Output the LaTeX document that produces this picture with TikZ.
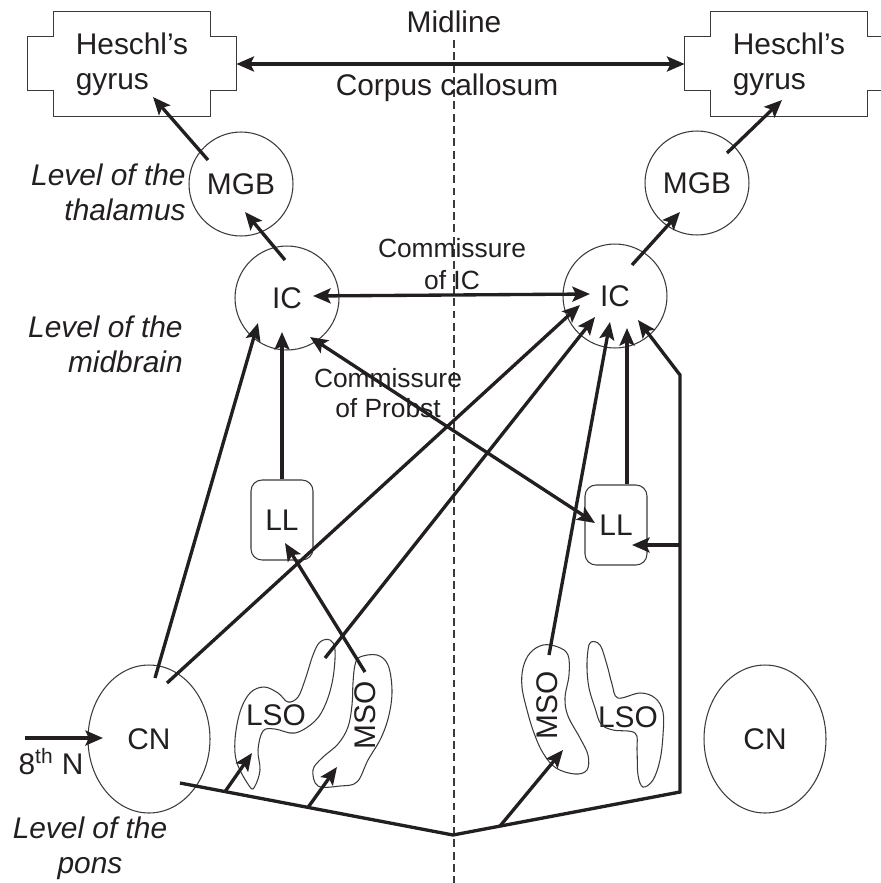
\documentclass[tikz,border=0pt]{standalone}
\usepackage{fontspec}
\setmainfont{Liberation Sans}
\usetikzlibrary{calc,shapes.geometric,arrows.meta}
\definecolor{ink}{HTML}{231F20}
\definecolor{rim}{HTML}{3A3A3A}
\tikzstyle{nucleus}   = [circle, draw=rim, line width=0.6pt, minimum size=2.08cm, inner sep=0pt, text=ink]
\tikzstyle{cochlear}  = [ellipse, draw=rim, line width=0.6pt, minimum width=2.44cm, minimum height=2.96cm, inner sep=0pt, text=ink]
\tikzstyle{lemniscus} = [rectangle, rounded corners=0.22cm, draw=rim, line width=0.6pt, minimum width=1.24cm, minimum height=1.6cm, inner sep=0pt, text=ink]
\tikzstyle{cortex}    = [minimum width=3.12cm, minimum height=2.1cm, inner sep=0pt, align=left, text=ink]
\tikzstyle{outline}   = [draw=rim, line width=0.6pt]
\tikzstyle{tract}     = [draw=ink, line width=1.9pt, -{Stealth[length=10pt,width=8.5pt,inset=2pt]}]
\tikzstyle{tracts}    = [draw=ink, line width=1.9pt, {Stealth[length=10pt,width=8.5pt,inset=2pt]}-{Stealth[length=10pt,width=8.5pt,inset=2pt]}]
\tikzstyle{level}     = [font=\fontsize{17}{20}\selectfont\itshape, text=ink, inner sep=0pt]
\tikzstyle{note}      = [text=ink, inner sep=0pt, align=center]
\tikzstyle{midline}   = [draw=rim, line width=0.7pt, dash pattern=on 4.5pt off 2.5pt]

\begin{document}
    \begin{tikzpicture}[x=0.02cm, y=-0.02cm, font=\fontsize{17}{20}\selectfont]
        \useasboundingbox (0,0) rectangle (880,883);

        \coordinate (mtop) at (454,40);
        \coordinate (mbot) at (454,883);
        \draw[midline] (mtop) -- (mbot);
        \node[note] (midl) at (454,22) {Midline};

        \node[cortex] (hgL) at (132,64) {Heschl’s\\gyrus};
        \node[cortex] (hgR) at (789,64) {Heschl’s\\gyrus};
        \draw[outline] (hgL.north west) -- (hgL.north east) -- ++(0,25) -- ++(26,0) -- ++(0,54) -- ++(-26,0) -- (hgL.south east) -- (hgL.south west) -- ++(0,-26) -- ++(-26,0) -- ++(0,-54) -- ++(26,0) -- cycle;
        \draw[outline] (hgR.north west) -- (hgR.north east) -- ++(0,25) -- ++(26,0) -- ++(0,54) -- ++(-26,0) -- (hgR.south east) -- (hgR.south west) -- ++(0,-26) -- ++(-26,0) -- ++(0,-54) -- ++(26,0) -- cycle;
        \node[note] (cc) at (447,88) {Corpus callosum};

        \node[nucleus] (mgbL) at (241,184) {MGB};
        \node[nucleus] (mgbR) at (697,183) {MGB};
        \node[nucleus] (icL) at (287,298) {IC};
        \node[nucleus] (icR) at (615,296) {IC};
        \node[lemniscus] (llL) at (282,520) {LL};
        \node[lemniscus] (llR) at (616,525) {LL};
        \node[cochlear] (cnL) at (149,739) {CN};
        \node[cochlear] (cnR) at (765,739) {CN};

        \node[note] (lsoL) at (276,715) {LSO};
        \node[note, rotate=90] (msoL) at (365,715) {MSO};
        \node[note, rotate=90] (msoR) at (547,705) {MSO};
        \node[note] (lsoR) at (628,717) {LSO};
        \draw[outline] plot[smooth cycle, tension=0.6] coordinates {(250,787) (237,763) (235,740) (240,712) (250,693) (264,687) (278,693) (288,702) (298,697) (305,680) (313,655) (320,642) (330,640) (335,650) (333,678) (326,703) (315,721) (295,733) (275,729) (263,731) (258,750) (260,770) (255,786)};
        \draw[outline] plot[smooth cycle, tension=0.6] coordinates {(360,657) (377,655) (388,665) (392,690) (389,715) (381,738) (368,760) (357,782) (340,786) (318,786) (313,770) (322,758) (338,744) (348,727) (352,705) (353,683) (355,665)};
        \draw[outline] plot[smooth cycle, tension=0.6] coordinates {(530,653) (543,645) (558,647) (568,655) (569,675) (565,698) (568,716) (580,738) (588,755) (587,770) (575,774) (556,768) (543,753) (534,733) (527,710) (522,687) (523,668)};
        \draw[outline] plot[smooth cycle, tension=0.6] coordinates {(591,642) (600,645) (607,665) (612,684) (618,698) (640,693) (655,698) (663,712) (663,735) (660,760) (653,780) (643,787) (638,775) (637,750) (635,733) (613,730) (601,724) (595,708) (589,688) (587,668) (588,650)};

        \node[level, anchor=east, align=right] (lvthal) at (186,192) {Level of the\\thalamus};
        \node[level, anchor=east, align=right] (lvmid) at (183,344) {Level of the\\midbrain};
        \node[level, align=center] (lvpons) at (90,848) {Level of the\\pons};
        \node[note, font=\fontsize{15}{18}\selectfont] (cic) at (452,264) {Commissure\\of IC};
        \node[note, font=\fontsize{15}{17}\selectfont] (cpr) at (388,393) {Commissure\\of Probst};
        \node[note] (eighth) at (51,762) {8\textsuperscript{th} N};

        \draw[tracts] ([shift={(26,0)}]hgL.east) -- ([shift={(-26,0)}]hgR.west);
        \draw[tract] ([shift={(-33,-24)}]mgbL.center) -- ([shift={(21,33)}]hgL.center);
        \draw[tract] ([shift={(-2,-38)}]icL.center) -- ([shift={(4,28)}]mgbL.center);
        \draw[tract] ([shift={(30,-30)}]mgbR.center) -- ([shift={(-7,36)}]hgR.center);
        \draw[tract] ([shift={(17,-31)}]icR.center) -- ([shift={(-17,29)}]mgbR.center);
        \draw[tracts] ([shift={(26,-2)}]icL.center) -- ([shift={(-25,-2)}]icR.center);
        \draw[tracts] ([shift={(23,39)}]icL.center) -- ([shift={(-21,-2)}]llR.center);
        \draw[tract] (llL.north) -- ([shift={(-5,34)}]icL.center);
        \draw[tract] ([shift={(11,0)}]llR.north) -- ([shift={(12,32)}]icR.center);
        \draw[tract] ([shift={(6,-61)}]cnL.center) -- ([shift={(-29,25)}]icL.center);
        \draw[tract] ([shift={(18,-56)}]cnL.center) -- ([shift={(-35,9)}]icR.center);
        \draw[tract] ([shift={(49,-57)}]lsoL.center) -- ([shift={(-20,21)}]icR.center);
        \draw[tract] ([shift={(0,-43)}]msoL.center) -- ([shift={(3,23)}]llL.center);
        \draw[tract] ([shift={(2,-50)}]msoR.center) -- ([shift={(-5,26)}]icR.center);

        \coordinate (nin) at (25,738);
        \draw[tract] (nin) -- ([shift={(-46,-1)}]cnL.center);

        \coordinate (cpath) at ([shift={(31,44)}]cnL.center);
        \coordinate (vee) at (453,835);
        \coordinate (rlow) at (680,792);
        \coordinate (rmid) at (680,545);
        \coordinate (rhigh) at (680,375);
        \draw[tract] (cpath) -- (vee) -- (rlow) -- (rhigh) -- ([shift={(23,24)}]icR.center);
        \draw[tract] (rmid) -- ([shift={(16,20)}]llR.center);
        \draw[tract] ($(cpath)!0.165!(vee)$) -- ([shift={(-24,38)}]lsoL.center);
        \draw[tract] ($(cpath)!0.469!(vee)$) -- ([shift={(-28,52)}]msoL.center);
        \draw[tract] ($(vee)!0.207!(rlow)$) -- ([shift={(16,45)}]msoR.center);
    \end{tikzpicture}
\end{document}
